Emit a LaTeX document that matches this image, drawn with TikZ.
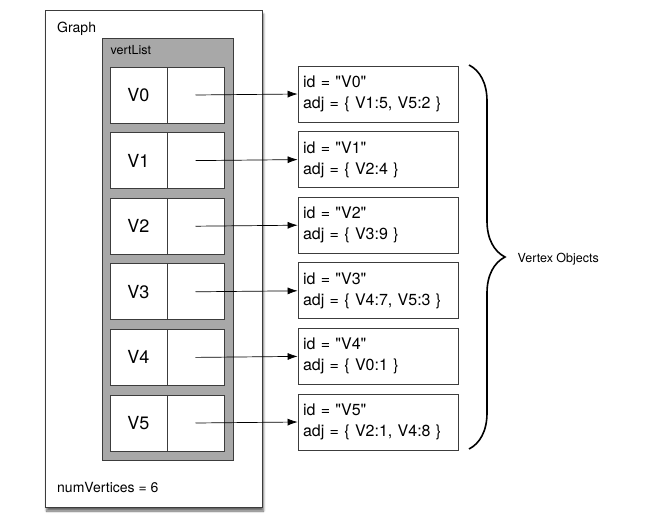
\documentclass[tikz,border=0pt]{standalone}
\usepackage{fontspec}
\setmainfont{TeX Gyre Heros}
\usepackage{tikz}
\usepackage{xcolor}
\usetikzlibrary{arrows.meta,positioning,calc,decorations.pathreplacing,shadows.blur}
\definecolor{Edge}{HTML}{3C3C3C}
\definecolor{ListGray}{HTML}{A8A8A8}

\begin{document}
\begin{tikzpicture}[x=1pt,y=-1pt,
  graphbox/.style={draw=Edge,fill=white,line width=0.8pt,minimum width=217pt,minimum height=497pt,inner sep=0pt,
    blur shadow={shadow blur steps=8,shadow xshift=1.5pt,shadow yshift=-4pt,shadow opacity=60}},
  listbox/.style={draw=Edge,fill=ListGray,line width=0.8pt,minimum width=131pt,minimum height=422pt,inner sep=0pt},
  cell/.style={draw=Edge,fill=white,line width=0.7pt,minimum width=57pt,minimum height=56pt,inner sep=0pt,font=\fontsize{18}{20}\selectfont},
  vobj/.style={draw=Edge,fill=white,line width=0.7pt,minimum width=160pt,minimum height=56pt,inner xsep=5pt,
    text width=150pt,align=left,font=\fontsize{16}{21}\selectfont},
  note/.style={inner sep=0pt,anchor=base west,font=\fontsize{14}{16}\selectfont},
  ptr/.style={-{Latex[length=10pt,width=7pt]},line width=0.7pt}
]
\useasboundingbox (0,0) rectangle (651,525);
\node[graphbox] (graph) at (153.5,258.5) {};
\node[listbox] (vlist) at (167.5,249) {};
\node[note] (gname) at (57,32) {Graph};
\node[note,font=\fontsize{12.5}{15}\selectfont] (lname) at (110.5,54) {vertList};
\node[note] (nv) at (57,492) {numVertices = 6};
\foreach \i/\adj in {0/{V1:5, V5:2},1/{V2:4},2/{V3:9},3/{V4:7, V5:3},4/{V0:1},5/{V2:1, V4:8}} {
  \node[cell] (k\i) at (138.5,95+65.6*\i) {V\i};
  \node[cell] (p\i) at (195.5,95+65.6*\i) {};
  \node[vobj] (v\i) at (378,94+65.6*\i) {id = \textquotedbl V\i\textquotedbl\\adj = \{ \adj\ \}};
  \draw[ptr] (p\i.center) -- (v\i.west);
}
\coordinate (btop) at (469,65);
\coordinate (bbot) at (469,449);
\draw[line width=1.6pt,decorate,decoration={brace,amplitude=36pt}] (btop) -- (bbot);
\node[note,font=\fontsize{12.5}{15}\selectfont] (vobjs) at (517.5,262) {Vertex Objects};
\end{tikzpicture}
\end{document}
